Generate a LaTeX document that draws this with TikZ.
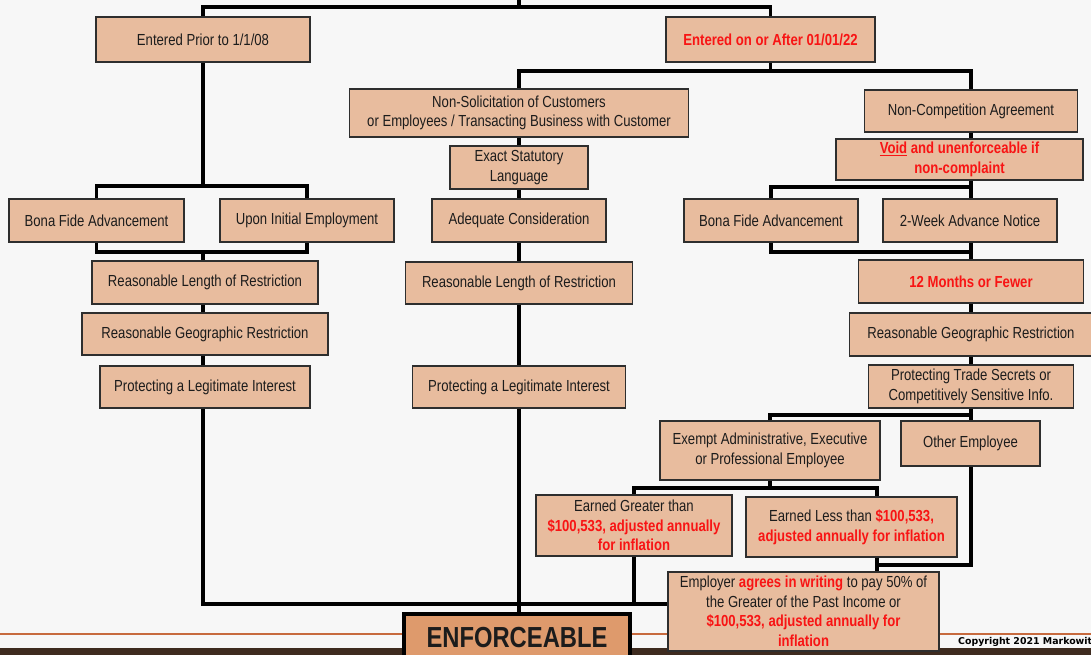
\documentclass[tikz,border=0pt]{standalone}
\usepackage{fontspec}
\setmainfont[FakeStretch=0.82]{Liberation Sans}
\newfontfamily\cpfont{DejaVu Sans}
\definecolor{bgc}{HTML}{F7F7F7}
\definecolor{peach}{HTML}{E8BC9E}
\definecolor{enfc}{HTML}{DE9A6C}
\definecolor{redt}{HTML}{F81414}
\definecolor{bord}{HTML}{2E2E2E}
\definecolor{txt}{HTML}{1C1C1C}
\definecolor{oline}{HTML}{C76A3E}
\definecolor{strip}{HTML}{3E2B1F}
\newcommand\rt[1]{\textcolor{redt}{\textbf{#1}}}
\tikzset{
  box/.style={draw=bord, line width=1.2pt, fill=peach, inner sep=0pt, align=center,
    font=\fontsize{16}{19.5}\selectfont, text=txt},
  conn/.style={line width=3.6pt, draw=black},
}
\begin{document}
\begin{tikzpicture}[x=1pt,y=-1pt]
\clip (0,0) rectangle (1091,655);
\fill[bgc] (0,0) rectangle (1091,655);
\fill[strip] (0,648) rectangle (1091,655);
\draw[oline, line width=1.4pt] (0,634) -- (1091,634);
\node[anchor=west, inner sep=0pt, font=\cpfont\bfseries\fontsize{9.4}{10}\selectfont] (cp) at (958,641.5) {Copyright 2021 Markowit};

% top level
\node[box, minimum width=214, minimum height=45] (prior) at (203,39.5) {Entered Prior to 1/1/08};
\node[box, minimum width=209, minimum height=45] (after) at (770.5,39.5) {\rt{Entered on or After 01/01/22}};

% middle column
\node[box, minimum width=339, minimum height=48] (nonsol) at (519,113) {Non-Solicitation of Customers\\or Employees / Transacting Business with Customer};
\node[box, minimum width=138, minimum height=43] (exact) at (519,167.5) {Exact Statutory\\Language};
\node[box, minimum width=174, minimum height=43] (adeq) at (519,220.5) {Adequate Consideration};
\node[box, minimum width=227, minimum height=42] (rlen2) at (519,283) {Reasonable Length of Restriction};
\node[box, minimum width=213, minimum height=42] (prot2) at (519,387) {Protecting a Legitimate Interest};

% left column
\node[box, minimum width=175, minimum height=43] (bfa1) at (96.5,220.5) {Bona Fide Advancement};
\node[box, minimum width=174, minimum height=43] (uie) at (307,220.5) {Upon Initial Employment};
\node[box, minimum width=226, minimum height=43] (rlen1) at (205,282.5) {Reasonable Length of Restriction};
\node[box, minimum width=246, minimum height=42] (rgeo1) at (205,334) {Reasonable Geographic Restriction};
\node[box, minimum width=210, minimum height=42] (prot1) at (205,387) {Protecting a Legitimate Interest};

% right column
\node[box, minimum width=213, minimum height=42] (noncomp) at (971,111) {Non-Competition Agreement};
\node[box, minimum width=247, minimum height=41] (void) at (959.5,159.5) {\rt{\underline{Void} and unenforceable if}\\\rt{non-complaint}};
\node[box, minimum width=174, minimum height=43] (bfa2) at (771,220.5) {Bona Fide Advancement};
\node[box, minimum width=174, minimum height=43] (notice) at (970,220.5) {2-Week Advance Notice};
\node[box, minimum width=225, minimum height=43] (twelve) at (971,281.5) {\rt{12 Months or Fewer}};
\node[box, minimum width=243, minimum height=43] (rgeo2) at (971,334.5) {Reasonable Geographic Restriction};
\node[box, minimum width=205, minimum height=43] (trade) at (971,386.5) {Protecting Trade Secrets or\\Competitively Sensitive Info.};
\node[box, minimum width=220, minimum height=59] (exempt) at (770,450.5) {Exempt Administrative, Executive\\or Professional Employee};
\node[box, minimum width=139, minimum height=45] (other) at (970.5,443.5) {Other Employee};
\node[box, minimum width=196, minimum height=61] (greater) at (634,525.5) {Earned Greater than\\\rt{\$100,533, adjusted annually}\\\rt{for inflation}};
\node[box, minimum width=211, minimum height=60] (less) at (851.5,527) {Earned Less than \rt{\$100,533,}\\\rt{adjusted annually for inflation}};
\node[box, minimum width=271, minimum height=79] (employer) at (803.5,611.5) {Employer \rt{agrees in writing} to pay 50\% of\\the Greater of the Past Income or\\\rt{\$100,533, adjusted annually for}\\\rt{inflation}};
\node[draw=black, line width=3.2pt, fill=enfc, inner sep=0pt, minimum width=226, minimum height=48,
  font=\fontsize{29}{30}\selectfont\bfseries, text=txt] (enf) at (517,638) {ENFORCEABLE};

% junctions
\coordinate (top) at (519,0);
\coordinate (j0) at (519,7);
\coordinate (j1) at (770.5,71);
\coordinate (j2) at (203,186);
\coordinate (j3) at (203,252);
\coordinate (j4) at (203,604);
\coordinate (j5) at (971,187);
\coordinate (j6) at (971,252);
\coordinate (j7) at (971,415);
\coordinate (j8) at (770,488);
\coordinate (lx) at (877,0);
\coordinate (j9) at (877,565);

% connectors
\draw[conn] (top) -- (j0);
\draw[conn] (prior.north) |- (j0) -| (after.north);
\draw[conn] (after.south) -- (j1);
\draw[conn] (nonsol.north) |- (j1) -| (noncomp.north);
\draw[conn] (nonsol.south) -- (exact.north);
\draw[conn] (exact.south) -- (adeq.north);
\draw[conn] (adeq.south) -- (rlen2.north);
\draw[conn] (rlen2.south) -- (prot2.north);
\draw[conn] (prot2.south) -- (prot2.south |- enf.north);

\draw[conn] (prior.south) -- (j2);
\draw[conn] (bfa1.north) |- (j2) -| (uie.north);
\draw[conn] (bfa1.south) |- (j3) -| (uie.south);
\draw[conn] (j3) -- (j3 |- rlen1.north);
\draw[conn] (j3 |- rlen1.south) -- (j3 |- rgeo1.north);
\draw[conn] (j3 |- rgeo1.south) -- (j3 |- prot1.north);
\draw[conn] (j3 |- prot1.south) -- (j4) -- (employer.west |- j4);

\draw[conn] (noncomp.south) -- (noncomp.south |- void.north);
\draw[conn] (noncomp.south |- void.south) -- (j5);
\draw[conn] (bfa2.north) |- (j5) -- (j5 |- notice.north);
\draw[conn] (bfa2.south) |- (j6);
\draw[conn] (j5 |- notice.south) -- (j6) -- (twelve.north);
\draw[conn] (twelve.south) -- (rgeo2.north);
\draw[conn] (rgeo2.south) -- (trade.north);
\draw[conn] (trade.south) -- (j7);
\draw[conn] (exempt.north) |- (j7) -- (j7 |- other.north);
\draw[conn] (exempt.south) -- (j8);
\draw[conn] (greater.north) |- (j8) -| (less.north -| lx);
\draw[conn] (greater.south) -- (greater.south |- j4);
\draw[conn] (less.south -| lx) -- (employer.north -| lx);
\draw[conn] (j7 |- other.south) |- (j9);
\end{tikzpicture}
\end{document}
